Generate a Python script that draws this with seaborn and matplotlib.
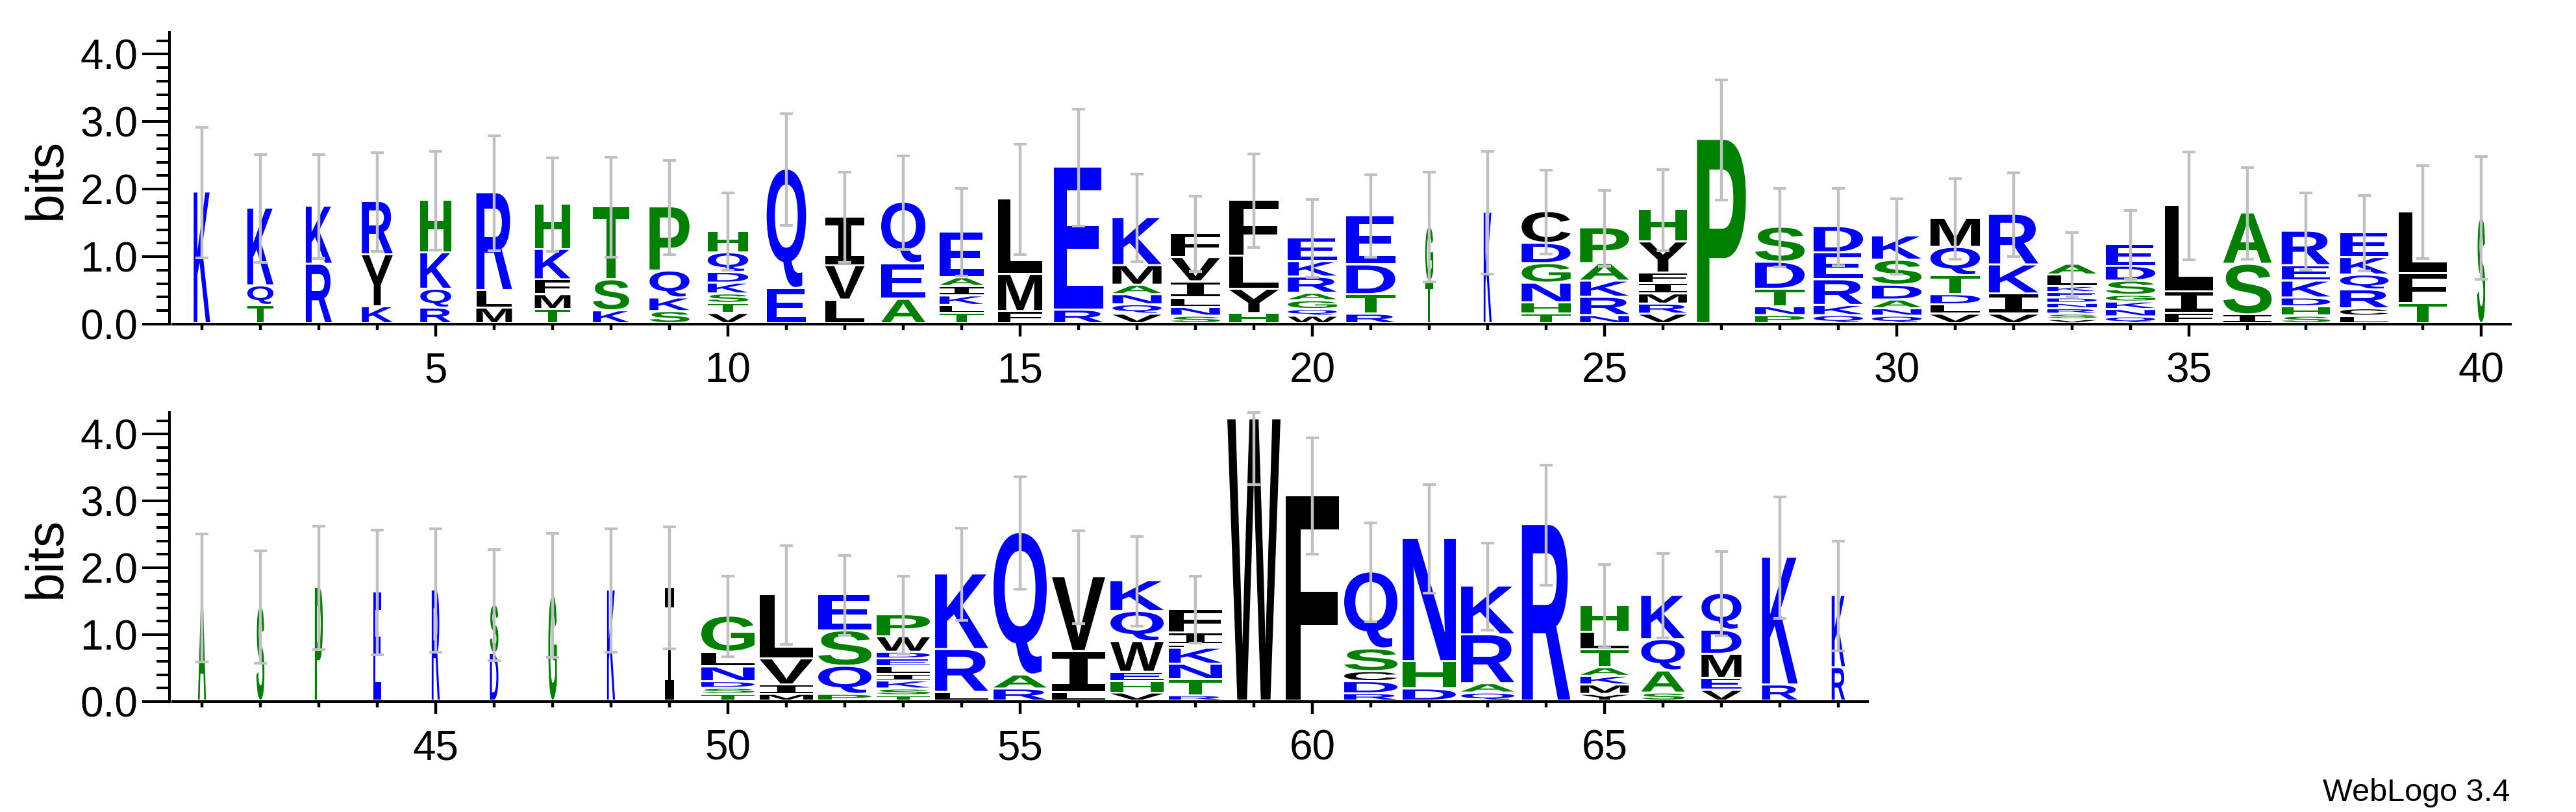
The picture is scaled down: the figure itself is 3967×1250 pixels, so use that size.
import matplotlib
matplotlib.use("Agg")
import matplotlib.pyplot as plt
import seaborn as sns
from matplotlib.textpath import TextPath
from matplotlib.patches import PathPatch
from matplotlib.font_manager import FontProperties
from matplotlib.transforms import Affine2D
from matplotlib.ticker import MultipleLocator, FormatStrFormatter

# letters of every stack, bottom to top (positions 1..69)
stack_letters = [
    "K", "TQK", "RK", "KYR", "RQKH", "MLR", "TMFKH", "KST", "SKQP", "VTSKDQH",
    "EQ", "LVI", "AEQ", "TLKIAE", "FML", "RE", "VQNAMK", "SNLIVF", "HYLF", "WQGARKE",
    "RTDE", "TG", "K", "THNGDC", "NRKAP", "VRMIFYH", "P", "PNTDS", "QKRED", "QNADSK",
    "VLDTQM", "VIKR", "VSRNDEKLA", "QNKGSDE", "FIL", "ISA", "SHDKER", "LCRQKE", "TFL", "S",
    "A", "S", "P", "E", "R", "DS", "G", "K", "I", "TSDNLG",
    "MIVL", "PQSE", "TSKILEDWP", "LRK", "RAQ", "LIV", "VHEWQK", "RTNKLIF", "W", "F",
    "RDCSQ", "DHN", "QARK", "R", "YMKATLH", "SAQK", "VEMDQ", "RK", "RK",
]

# height of each letter in bits, same order as above
stack_heights = [
    [1.95], [.27, .29, 1.15], [.88, .86], [.25, .77, .79], [.23, .28, .54, .78],
    [.23, .26, 1.45], [.21, .22, .22, .45, .67], [.19, .46, 1.08], [.18, .20, .40, .95],
    [.15, .15, .14, .16, .16, .29, .32],
    [.52, 1.77], [.35, .51, .72], [.36, .53, .91], [.15, .12, .14, .14, .13, .68],
    [.18, .55, 1.12], [.20, 2.12], [.14, .14, .15, .14, .29, .71],
    [.11, .13, .14, .24, .36, .36], [.15, .36, .49, .83],
    [.11, .10, .13, .11, .24, .23, .35],
    [.14, .29, .44, .73], [.62, .82], [1.65], [.14, .17, .29, .29, .30, .47],
    [.12, .27, .24, .26, .53], [.14, .15, .15, .16, .15, .46, .48], [2.73],
    [.12, .13, .26, .40, .52], [.12, .15, .38, .40, .39], [.11, .11, .13, .22, .37, .36],
    [.14, .14, .15, .28, .42, .43], [.14, .30, .43, .75],
    [.06, .08, .08, .08, .08, .08, .09, .17, .16], [.10, .11, .11, .10, .21, .22, .32],
    [.15, .32, 1.28], [.13, .75, .76], [.11, .14, .13, .25, .23, .51],
    [.11, .11, .28, .22, .26, .37], [.30, .44, .92], [1.57],
    [1.55], [1.41], [1.70], [1.63], [1.66], [.71, .73], [1.59], [1.66], [1.70],
    [.10, .09, .10, .22, .22, .54],
    [.10, .14, .39, .96], [.10, .42, .53, .54], [.08, .10, .12, .10, .11, .12, .10, .23, .33],
    [.13, .64, 1.13], [.18, .21, 2.13], [.13, .61, 1.12], [.12, .17, .14, .46, .45, .46],
    [.08, .24, .23, .24, .05, .18, .35], [4.22], [3.07],
    [.11, .18, .15, .34, 1.15], [.18, .41, 1.84], [.12, .14, .73, .73], [2.64],
    [.10, .14, .13, .13, .27, .26, .40], [.12, .33, .47, .66], [.16, .18, .36, .36, .55],
    [.24, 1.91], [.50, 1.08],
]

# half length of the error bar on each stack (bits)
stack_errors = [
    .97, .80, .77, .73, .73, .85, .69, .74, .70, .57,
    .83, .67, .69, .65, .82, .87, .65, .56, .69, .58,
    .61, .81, .91, .62, .56, .60, .89, .58, .57, .56,
    .60, .62, .48, .51, .80, .68, .57, .56, .69, .91,
    .96, .84, .92, .93, .92, .83, .93, .92, .91, .60,
    .74, .60, .58, .69, .84, .69, .67, .50, .98, .87,
    .74, .81, .65, .90, .62, .63, .63, .91, .82,
]

# relative stack width (fraction of non-gap sequences)
stack_widths = [
    .31, .49, .49, .58, .58, .67, .67, .68, .75, .76,
    .74, .74, .83, .83, .83, .92, .92, .92, .93, .92,
    .92, .15, .15, .92, .92, .90, .92, .93, .93, .93,
    .93, .93, .93, .93, .91, .91, .91, .91, .91, .15,
    .15, .15, .15, .15, .15, .16, .16, .15, .16, 1.0,
    1.0, 1.0, 1.0, 1.0, 1.0, 1.0, 1.0, 1.0, 1.0, 1.0,
    1.0, 1.0, 1.0, .91, .91, .82, .75, .67, .25,
]

# hydrophobicity colouring
hydrophilic, neutral, hydrophobic = "#0000ff", "#008000", "#000000"
letter_colors = {}
for c in "RKDENQ":
    letter_colors[c] = hydrophilic
for c in "SGHTAP":
    letter_colors[c] = neutral
for c in "YVMCLFIW":
    letter_colors[c] = hydrophobic

MAX_BITS = 4.3219  # log2(20)
FULL_WIDTH = 0.91

sns.set_style("ticks", rc={"axes.edgecolor": "black", "xtick.color": "black",
                           "ytick.color": "black", "text.color": "black",
                           "axes.labelcolor": "black"})
plt.rcParams["font.family"] = ["Liberation Sans", "DejaVu Sans"]

bold = FontProperties(family="Liberation Sans", weight="bold")
serif_i = FontProperties(family="DejaVu Sans Mono", weight="bold")
glyph_cache = {}


def glyph(ch):
    if ch not in glyph_cache:
        path = TextPath((0, 0), ch, size=1, prop=serif_i if ch == "I" else bold)
        glyph_cache[ch] = (path, path.get_extents())
    return glyph_cache[ch]


def draw_letter(ax, ch, x, y0, w, h):
    path, ext = glyph(ch)
    tr = (Affine2D().translate(-ext.x0, -ext.y0)
          .scale(w / ext.width, h / ext.height)
          .translate(x - w / 2, y0))
    ax.add_patch(PathPatch(tr.transform_path(path), facecolor=letter_colors[ch],
                           edgecolor="none", lw=0, zorder=2))


def draw_logo(ax, first, last):
    for pos in range(first, last + 1):
        i = pos - 1
        w = FULL_WIDTH * stack_widths[i]
        y = 0.0
        for ch, h in zip(stack_letters[i], stack_heights[i]):
            gap = min(0.03, 0.45 * h)
            draw_letter(ax, ch, pos, y + gap, w, h - gap)
            y += h
        lo = y - stack_errors[i]
        hi = min(y + stack_errors[i], MAX_BITS)
        ax.vlines(pos, lo, hi, color="#c0c0c0", lw=3.2, zorder=3, clip_on=False)
        ax.hlines([lo, hi], pos - 0.11, pos + 0.11, color="#c0c0c0", lw=3.0,
                  zorder=3, clip_on=False)

    ax.set_xlim(first - 0.5, last + 0.5)
    ax.set_ylim(0, MAX_BITS)
    ax.xaxis.set_major_locator(MultipleLocator(5))
    ax.xaxis.set_minor_locator(MultipleLocator(1))
    ax.yaxis.set_major_locator(MultipleLocator(1))
    ax.yaxis.set_minor_locator(MultipleLocator(0.2))
    ax.yaxis.set_major_formatter(FormatStrFormatter("%.1f"))
    ax.tick_params(axis="x", which="major", length=13.7, width=3.2, pad=17, labelsize=46)
    ax.tick_params(axis="x", which="minor", length=6.5, width=3.2)
    ax.tick_params(axis="y", which="major", length=30, width=2.9, pad=5, labelsize=46)
    ax.tick_params(axis="y", which="minor", length=14.4, width=2.9)
    sns.despine(ax=ax, offset={"left": 3.6})
    for s in ("left", "bottom"):
        ax.spines[s].set_linewidth(2.9)


W, H = 3967, 1250
fig = plt.figure(figsize=(W / 100, H / 100), dpi=100)
ax_top = fig.add_axes([266 / W, 1 - 499 / H, 3600 / W, 449 / H])
ax_bot = fig.add_axes([266 / W, 1 - 1080 / H, 2610 / W, 445 / H])

draw_logo(ax_top, 1, 40)
draw_logo(ax_bot, 41, 69)

fig.text(72 / W, 1 - 275 / H, "bits", rotation=90, ha="center", va="center", fontsize=58)
fig.text(72 / W, 1 - 858 / H, "bits", rotation=90, ha="center", va="center", fontsize=58)
fig.text(3865 / W, 1 - 1233 / H, "WebLogo 3.4", ha="right", va="baseline", fontsize=35)

fig.savefig("out.png", dpi=100)
